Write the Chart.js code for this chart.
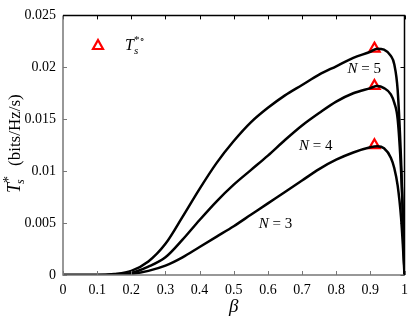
<!DOCTYPE html>
<html>
<head>
<meta charset="utf-8">
<script src="https://cdn.jsdelivr.net/npm/chart.js@4"></script>
<style>
  html, body { margin: 0; padding: 0; background: #fff; }
  #contenedor { width: 415px; height: 319px; }
</style>
</head>
<body>
<div id="contenedor"><canvas id="graficoTs"></canvas></div>
<script>
// Valores
const beta = [0, 0.05, 0.1, 0.15, 0.2, 0.25, 0.3, 0.35, 0.4, 0.45, 0.5, 0.55, 0.6, 0.65, 0.7, 0.75, 0.8, 0.85, 0.9, 0.92, 0.94, 0.96, 0.97, 0.98, 0.99, 0.995, 1];
const tsN3 = [0, 0, 0, 0.00002, 0.0001, 0.0004, 0.0009, 0.0017, 0.0027, 0.0037, 0.0047, 0.0058, 0.0069, 0.0080, 0.0091, 0.0102, 0.0111, 0.0118, 0.0123, 0.0124, 0.0122, 0.0113, 0.0103, 0.0086, 0.0055, 0.0030, 0];
const tsN4 = [0, 0, 0, 0.00005, 0.0002, 0.0008, 0.0017, 0.0034, 0.0053, 0.0071, 0.0087, 0.0101, 0.0115, 0.0130, 0.0144, 0.0156, 0.0167, 0.0175, 0.0180, 0.0182, 0.0180, 0.0174, 0.0166, 0.0150, 0.0100, 0.0060, 0];
const tsN5 = [0, 0, 0, 0.0001, 0.0004, 0.0013, 0.0030, 0.0056, 0.0083, 0.0108, 0.0129, 0.0147, 0.0161, 0.0173, 0.0183, 0.0193, 0.0201, 0.0209, 0.0215, 0.0218, 0.0217, 0.0211, 0.0203, 0.0178, 0.0110, 0.0060, 0];
const picoBeta = [0.912, 0.912, 0.912];
const picoTs = [0.0125, 0.0182, 0.0218];
const ticksX = [0, 0.1, 0.2, 0.3, 0.4, 0.5, 0.6, 0.7, 0.8, 0.9, 1];
const ticksY = [0, 0.005, 0.01, 0.015, 0.02, 0.025];
const etiquetasN = ["N = 3", "N = 4", "N = 5"];

const serif = "'Liberation Serif', 'DejaVu Serif', serif";

// Convierte dos listas en puntos {x, y}
const puntos = (xs, ys) => xs.map((x, i) => ({ x, y: ys[i] }));

// Dibuja ejes, marcas hacia dentro, textos y leyenda
const decoracion = {
    id: "decoracion",
    afterDraw(chart) {
        const { ctx, chartArea: a, scales: { x, y } } = chart;
        ctx.save();

        // Marcas de los ejes (hacia dentro)
        ctx.lineWidth = 1;
        ticksX.forEach(v => {
            const px = Math.round(x.getPixelForValue(v)) + 0.5;
            ctx.strokeStyle = "#777";
            ctx.beginPath(); ctx.moveTo(px, a.bottom); ctx.lineTo(px, a.bottom - 4); ctx.stroke();
            ctx.strokeStyle = "#000";
            ctx.beginPath(); ctx.moveTo(px, a.top); ctx.lineTo(px, a.top + 4); ctx.stroke();
        });
        ticksY.forEach(v => {
            const py = Math.round(y.getPixelForValue(v)) + 0.5;
            ctx.strokeStyle = "#777";
            ctx.beginPath(); ctx.moveTo(a.left, py); ctx.lineTo(a.left + 4, py); ctx.stroke();
            ctx.strokeStyle = "#000";
            ctx.beginPath(); ctx.moveTo(a.right, py); ctx.lineTo(a.right - 4, py); ctx.stroke();
        });

        // Bordes: izquierdo e inferior grises, superior y derecho negros
        ctx.strokeStyle = "#777";
        ctx.lineWidth = 1.5;
        ctx.beginPath();
        ctx.moveTo(a.left, a.top); ctx.lineTo(a.left, a.bottom); ctx.lineTo(a.right, a.bottom);
        ctx.stroke();
        ctx.strokeStyle = "#000";
        ctx.beginPath();
        ctx.moveTo(a.left, a.top); ctx.lineTo(a.right, a.top); ctx.lineTo(a.right, a.bottom);
        ctx.stroke();

        // Etiquetas N = 3, 4, 5
        ctx.fillStyle = "#000";
        ctx.textBaseline = "middle";
        const posN = [[0.622, 0.0049], [0.74, 0.0124], [0.882, 0.0198]];
        etiquetasN.forEach((t, i) => {
            const px = x.getPixelForValue(posN[i][0]);
            const py = y.getPixelForValue(posN[i][1]);
            const resto = t.slice(1);
            ctx.font = "15px " + serif;
            const wResto = ctx.measureText(resto).width;
            ctx.font = "italic 15px " + serif;
            const wN = ctx.measureText("N").width;
            const x0 = px - (wN + wResto) / 2;
            ctx.textAlign = "left";
            ctx.fillText("N", x0, py);
            ctx.font = "15px " + serif;
            ctx.fillText(resto, x0 + wN, py);
        });

        // Leyenda
        const lx = 98, ly = 45;
        ctx.strokeStyle = "#ff0000";
        ctx.lineWidth = 2.2;
        ctx.beginPath();
        ctx.moveTo(lx, ly - 5); ctx.lineTo(lx + 5, ly + 4); ctx.lineTo(lx - 5, ly + 4); ctx.closePath();
        ctx.stroke();
        ctx.fillStyle = "#000";
        ctx.textAlign = "left";
        ctx.textBaseline = "alphabetic";
        ctx.font = "italic 16px " + serif;
        ctx.fillText("T", 125, 50);
        ctx.font = "italic 11px " + serif;
        ctx.fillText("s", 134, 54);
        ctx.font = "11px " + serif;
        ctx.fillText("*\u2218", 134, 43);

        // Título eje X
        ctx.font = "italic 19px " + serif;
        ctx.textAlign = "center";
        ctx.fillText("\u03b2", x.getPixelForValue(0.5), 312);

        // Título eje Y (rotado)
        ctx.translate(20, 193);
        ctx.rotate(-Math.PI / 2);
        ctx.textAlign = "left";
        ctx.font = "italic 18px " + serif;
        ctx.fillText("T", 0, 0);
        ctx.font = "italic 12px " + serif;
        ctx.fillText("s", 9, 4);
        ctx.font = "14px " + serif;
        ctx.fillText("*", 10, -7);
        ctx.font = "17px " + serif;
        ctx.fillText("(bits/Hz/s)", 27, 0);

        ctx.restore();
    }
};

const linea = (datos) => ({
    data: datos,
    showLine: true,
    borderColor: "#000",
    borderWidth: 2.5,
    pointRadius: 0,
    fill: false,
    cubicInterpolationMode: "monotone"
});

new Chart(document.getElementById("graficoTs"), {
    type: "scatter",
    data: {
        datasets: [
            linea(puntos(beta, tsN3)),
            linea(puntos(beta, tsN4)),
            linea(puntos(beta, tsN5)),
            {
                data: puntos(picoBeta, picoTs),
                showLine: false,
                pointStyle: "triangle",
                pointRadius: 6,
                pointBorderColor: "#ff0000",
                pointBackgroundColor: "rgba(255,255,255,0)",
                pointBorderWidth: 2.2
            }
        ]
    },
    options: {
        responsive: true,
        maintainAspectRatio: false,
        animation: false,
        layout: { padding: { left: 0, right: 5, top: 7, bottom: 0 } },
        plugins: {
            legend: { display: false },
            tooltip: { enabled: false }
        },
        scales: {
            x: {
                type: "linear",
                min: 0, max: 1,
                afterFit: s => { s.height = 44; },
                afterBuildTicks: s => { s.ticks = ticksX.map(v => ({ value: v })); },
                grid: { display: false, drawTicks: false },
                border: { display: false },
                ticks: {
                    padding: 7,
                    color: "#000",
                    font: { family: serif, size: 14 },
                    callback: v => String(+v.toFixed(1))
                }
            },
            y: {
                min: 0, max: 0.025,
                afterFit: s => { s.width = 63; },
                afterBuildTicks: s => { s.ticks = ticksY.map(v => ({ value: v })); },
                grid: { display: false, drawTicks: false },
                border: { display: false },
                ticks: {
                    padding: 7,
                    color: "#000",
                    font: { family: serif, size: 14 },
                    callback: v => String(+v.toFixed(3))
                }
            }
        }
    },
    plugins: [decoracion]
});
</script>
</body>
</html>
